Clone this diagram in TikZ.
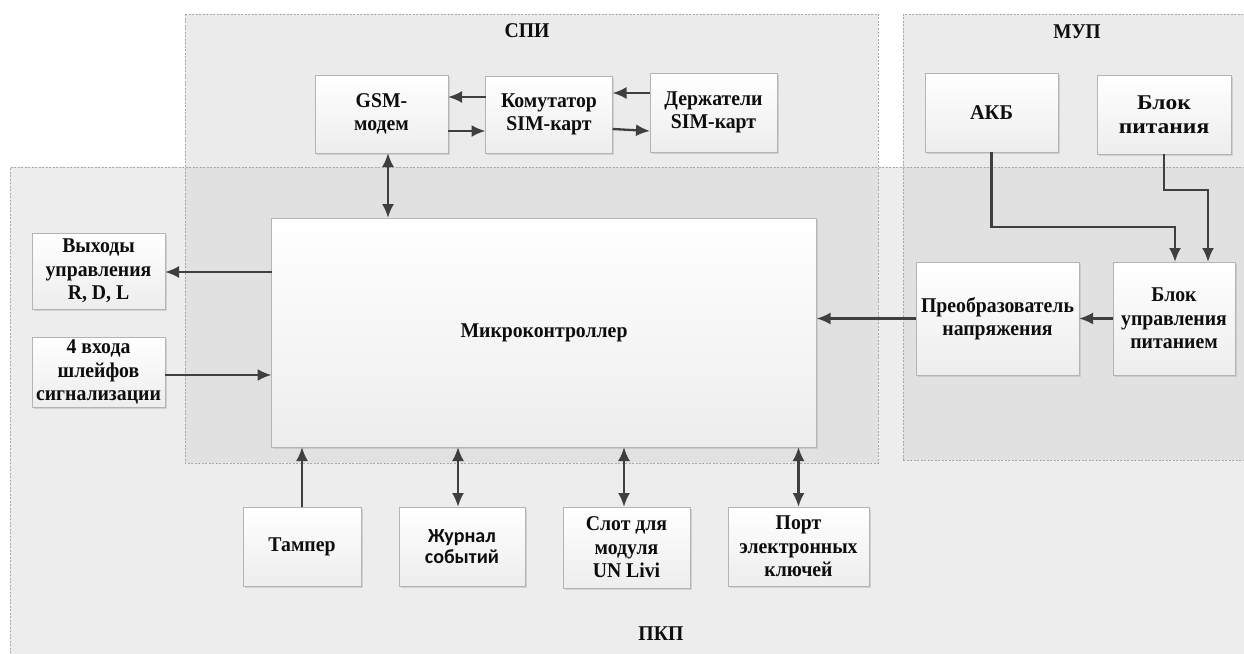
\documentclass[tikz,border=0pt]{standalone}
\usepackage{fontspec}
\setmainfont{Liberation Serif}
\newfontfamily\txtf{Liberation Serif}[FakeStretch=0.94]
\newfontfamily\akbf{Liberation Serif}[FakeStretch=0.97]
\newfontfamily\mupf{Liberation Serif}[FakeStretch=0.92]
\newfontfamily\bpf{Liberation Serif}[FakeStretch=1.12]
\newfontfamily\carlf{Carlito}
\usetikzlibrary{arrows.meta,shadows}
\definecolor{regfill}{HTML}{EBEBEB}
\definecolor{pkpfill}{HTML}{EDEDED}
\definecolor{ovfill}{HTML}{E1E1E1}
\definecolor{regline}{HTML}{A8A8A8}
\definecolor{boxline}{HTML}{B4B4B4}
\definecolor{arrcol}{HTML}{3F3F3F}
\tikzset{
  region/.style={draw=regline, line width=0.6pt, dash pattern=on 2pt off 1.5pt},
  blk/.style={draw=boxline, line width=0.8pt, top color=white, bottom color=black!7,
    inner sep=0pt, outer sep=0pt, align=center, text=black!95,
    font=\fontsize{21}{23.5}\selectfont\txtf\bfseries,
    drop shadow={shadow xshift=1.5pt, shadow yshift=-1.5pt, fill=black!25, opacity=0.6}},
  akbtxt/.style={font=\fontsize{21}{23.5}\selectfont\akbf\bfseries},
  bptxt/.style={font=\fontsize{21}{23.5}\selectfont\bpf\bfseries},
  carltxt/.style={font=\fontsize{20}{21}\selectfont\carlf\bfseries},
  rlabel/.style={text=black!95, font=\fontsize{21}{23.5}\selectfont\txtf\bfseries},
  muptxt/.style={font=\fontsize{21}{23.5}\selectfont\mupf\bfseries},
  tip/.tip={Latex[length=14pt,width=12pt]},
  arr/.style={draw=arrcol, line width=2.3pt, -tip},
  biarr/.style={draw=arrcol, line width=2.3pt, tip-tip},
}
\begin{document}
\begin{tikzpicture}[x=1pt,y=-1pt]
\useasboundingbox[fill=white] (0,0) rectangle (1244,653);
% regions
\fill[pkpfill] (10,167) rectangle (1250,660);
\fill[regfill] (185,14) rectangle (878,463);
\fill[regfill] (903,14) rectangle (1250,460);
\fill[ovfill] (185,167) rectangle (878,463);
\fill[ovfill] (903,167) rectangle (1250,460);
\draw[region] (10,660) -- (10,167) -- (1250,167);
\draw[region] (185,14) rectangle (878,463);
\draw[region] (903,460) -- (903,14) -- (1250,14);
\draw[region] (903,460) -- (1250,460);
\node[rlabel] (spi) at (527,31) {СПИ};
\node[rlabel, muptxt] (mup) at (1077,32) {МУП};
\node[rlabel] (pkp) at (661,634) {ПКП};
% blocks
\node[blk, minimum width=133pt, minimum height=78pt] (gsm) at (381.5,114) {GSM-\\модем};
\node[blk, minimum width=127pt, minimum height=77pt] (kom) at (549,114.5) {Комутатор\\SIM-карт};
\node[blk, minimum width=127pt, minimum height=79pt] (derj) at (713.5,112.5) {Держатели\\SIM-карт};
\node[blk, minimum width=545pt, minimum height=229pt] (mc) at (544,332.5) {Микроконтроллер};
\node[blk, akbtxt, minimum width=133pt, minimum height=79pt] (akb) at (991.5,112.5) {АКБ};
\node[blk, bptxt, minimum width=134pt, minimum height=79pt] (bp) at (1164,114.5) {Блок\\питания};
\node[blk, minimum width=163pt, minimum height=113pt] (preob) at (997.5,318.5) {Преобразователь\\напряжения};
\node[blk, minimum width=122pt, minimum height=113pt] (bup) at (1174,318.5) {Блок\\управления\\питанием};
\node[blk, minimum width=133pt, minimum height=76pt] (vyh) at (98.5,271) {Выходы\\управления\\R, D, L};
\node[blk, minimum width=133pt, minimum height=70pt] (vh) at (98.5,372) {4 входа\\шлейфов\\сигнализации};
\node[blk, minimum width=118pt, minimum height=79pt] (tamp) at (302,546.5) {Тампер};
\node[blk, carltxt, minimum width=126pt, minimum height=79pt] (zhur) at (462,546.5) {Журнал\\событий};
\node[blk, minimum width=127pt, minimum height=81pt] (slot) at (626.5,547.5) {Слот для\\модуля\\UN Livi};
\node[blk, minimum width=141pt, minimum height=79pt] (port) at (798.5,546.5) {Порт\\электронных\\ключей};
% connectors
\draw[biarr] ([xshift=6.5pt]gsm.south) -- ([xshift=6.5pt]gsm.south |- mc.north);
\draw[arr] (kom.west |- 0,97) -- (gsm.east |- 0,97);
\draw[arr] (gsm.east |- 0,131) -- (kom.west |- 0,131);
\draw[arr] (derj.west |- 0,93) -- (kom.east |- 0,93);
\draw[arr] (kom.east |- 0,129) -- (derj.west |- 0,131);
\draw[arr] (mc.west |- 0,272) -- (vyh.east |- 0,272);
\draw[arr] (vh.east |- 0,375) -- (mc.west |- 0,375);
\draw[arr] (preob.west) -- (mc.east |- preob.west);
\draw[arr] (bup.west) -- (preob.east);
\draw[arr] (akb.south) -- (akb.south |- 0,227) -| ([xshift=1pt]bup.north);
\draw[arr] (bp.south) -- (bp.south |- 0,190) -| ([xshift=34pt]bup.north);
\draw[arr] (tamp.north) -- (tamp.north |- mc.south);
\draw[biarr] ([xshift=-4pt]zhur.north) -- ([xshift=-4pt]zhur.north |- mc.south);
\draw[biarr] ([xshift=-2.5pt]slot.north) -- ([xshift=-2.5pt]slot.north |- mc.south);
\draw[biarr] (port.north) -- (port.north |- mc.south);
\end{tikzpicture}
\end{document}
